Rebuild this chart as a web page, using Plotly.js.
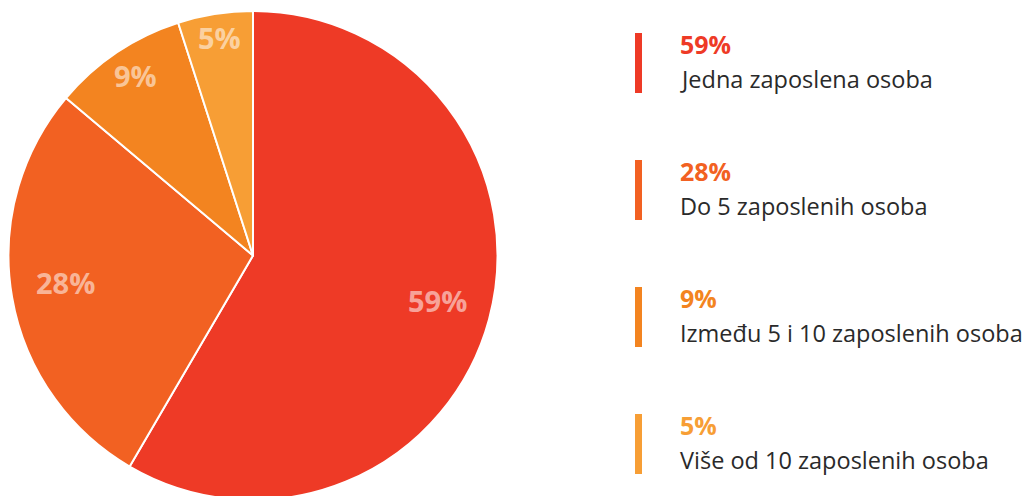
<!DOCTYPE html>
<html>
<head>
<meta charset="utf-8">
<script src="https://cdn.plot.ly/plotly-3.0.1.min.js"></script>
<style>html,body{margin:0;padding:0;background:#fff;overflow:hidden;}#chart{width:1026px;height:500px;}</style>
</head>
<body>
<div id="chart"></div>
<script>
const categories = ["Jedna zaposlena osoba", "Do 5 zaposlenih osoba", "Između 5 i 10 zaposlenih osoba", "Više od 10 zaposlenih osoba"];
const values = [59, 28, 9, 5];
const colors = ["#EE3A26", "#F26122", "#F38420", "#F79E35"];

const W = 1026, H = 500, T = 11;
const PH = H - T;
const px = x => x / W;
const py = y => (H - y) / PH;

// pie geometry (pixels) derived from the layout
const R = PH / 2;
const CX = 253, CY = T + R;

const trace = {
  type: "pie",
  labels: categories,
  values: values,
  sort: false,
  direction: "clockwise",
  rotation: 0,
  marker: {colors: colors, line: {color: "#ffffff", width: 2}},
  textinfo: "none",
  hoverinfo: "none",
  domain: {x: [(CX - R) / W, (CX + R) / W], y: [0, 1]},
  showlegend: false
};

const shapes = [];
const annotations = [];

// slice labels, placed at each slice's mid angle
const total = values.reduce((a, b) => a + b, 0);
let cum = 0;
values.forEach((v, i) => {
  const span = v / total * 360;
  const mid = (cum + span / 2) * Math.PI / 180;
  cum += span;
  const rf = 0.78 + 0.0014 * Math.max(0, 90 - span);
  const x = CX + Math.sin(mid) * R * rf;
  const y = CY - Math.cos(mid) * R * rf - 5;
  annotations.push({xref: "paper", yref: "paper", x: px(x), y: py(y), xanchor: "center", yanchor: "middle", showarrow: false,
    text: "<b>" + v + "%</b>", font: {family: "Open Sans", size: 29, color: "rgba(255,255,255,0.55)"}});
});

// legend
categories.forEach((c, i) => {
  const top = 33 + i * 127;
  shapes.push({type: "rect", xref: "paper", yref: "paper", x0: px(635), x1: px(642), y0: py(top), y1: py(top + 60), fillcolor: colors[i], line: {width: 0}});
  annotations.push({xref: "paper", yref: "paper", x: px(678), y: py(top + 10.5), xanchor: "left", yanchor: "middle", showarrow: false, text: "<b>" + values[i] + "%</b>", font: {family: "Open Sans", size: 25, color: colors[i]}});
  annotations.push({xref: "paper", yref: "paper", x: px(678), y: py(top + 46), xanchor: "left", yanchor: "middle", showarrow: false, text: c, font: {family: "Open Sans", size: 23.5, color: "#2a2a2a"}});
});

const layout = {
  width: W, height: H,
  margin: {l: 0, r: 0, t: T, b: 0, pad: 0},
  paper_bgcolor: "#ffffff",
  plot_bgcolor: "#ffffff",
  shapes: shapes,
  annotations: annotations,
  showlegend: false
};

Plotly.newPlot("chart", [trace], layout, {displayModeBar: false, staticPlot: true});
</script>
</body>
</html>
